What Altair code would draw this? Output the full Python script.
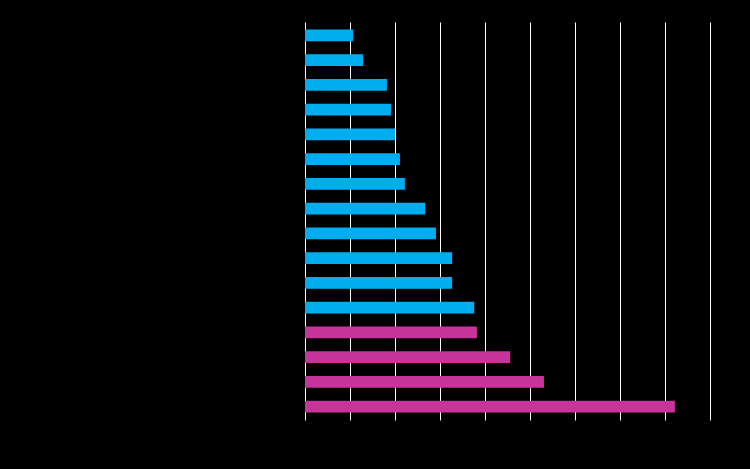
import altair as alt
import pandas as pd

categories = [f"Item {i}" for i in range(1, 17)]
values = [10.7, 12.9, 18.2, 19.1, 20.0, 21.1, 22.2, 26.7, 29.1, 32.7, 32.7, 37.6, 38.2, 45.6, 53.1, 82.2]
groups = ["A"] * 12 + ["B"] * 4
tick_values = [0, 10, 20, 30, 40, 50, 60, 70, 80, 90]

df = pd.DataFrame({"category": categories, "value": values, "group": groups})

chart = alt.Chart(df).mark_bar().encode(
    x=alt.X("value:Q", scale=alt.Scale(domain=[0, 90], nice=False),
            axis=alt.Axis(title=None, values=tick_values, labelOverlap=False,
                          grid=True, gridColor="#ffffff", gridOpacity=1, gridWidth=1,
                          domain=False, ticks=False, labelColor="#000000")),
    y=alt.Y("category:N", sort=categories,
            scale=alt.Scale(paddingInner=0.52, paddingOuter=0.3),
            axis=alt.Axis(title=None, domain=False, ticks=False, labelColor="#000000")),
    color=alt.Color("group:N", scale=alt.Scale(domain=["A", "B"], range=["#00AEEF", "#C8359A"]), legend=None),
).properties(
    width=405, height=398,
    background="#000000",
    padding={"left": 305, "top": 22, "right": 40, "bottom": 49},
    autosize=alt.AutoSizeParams(type="none"),
).configure_view(stroke=None)

chart.save("out.html", embed_options={"renderer": "svg", "actions": False})
